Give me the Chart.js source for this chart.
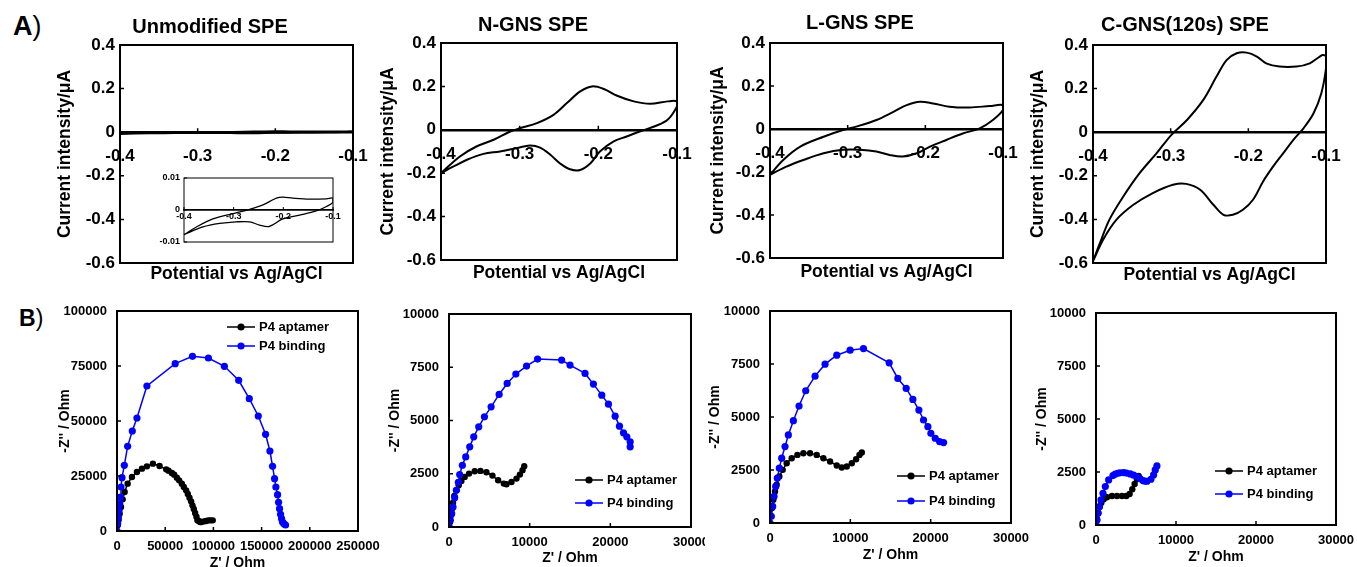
<!DOCTYPE html>
<html>
<head>
<meta charset="utf-8">
<title>CV and EIS of modified SPEs</title>
<script src="https://cdn.jsdelivr.net/npm/chart.js@4.4.1/dist/chart.umd.min.js"></script>
<style>
  html, body { margin: 0; padding: 0; background: #fff; }
  body { width: 1357px; height: 567px; position: relative; overflow: hidden; font-family: 'Liberation Sans', Arial, sans-serif; }
  canvas { position: absolute; }
  .tag { position: absolute; font-weight: bold; line-height: 1; color: #000; }
  .tag span { font-weight: normal; }
</style>
</head>
<body>
<div class="tag" style="left:13px;top:13px;font-size:27px">A<span>)</span></div>
<div class="tag" style="left:19px;top:307px;font-size:23px">B<span>)</span></div>
<script>
// ---- tick labels ----
const cvPotentialTicks = [-0.4, -0.3, -0.2, -0.1];
const cvCurrentTicks = [0.4, 0.2, 0, -0.2, -0.4, -0.6];
const insetCurrentTicks = [0.01, 0, -0.01];
const eisReTicksWide = [0, 50000, 100000, 150000, 200000, 250000];
const eisImTicksWide = [0, 25000, 50000, 75000, 100000];
const eisReTicks = [0, 10000, 20000, 30000];
const eisImTicks = [0, 2500, 5000, 7500, 10000];

// ---- cyclic voltammograms (potential V, current uA) ----
const unmodV = [-0.4, -0.375, -0.342, -0.301, -0.268, -0.241, -0.214, -0.201, -0.181, -0.147, -0.113, -0.1,
  -0.1, -0.113, -0.134, -0.167, -0.201, -0.228, -0.248, -0.268, -0.295, -0.328, -0.362, -0.4];
const unmodI = [-0.0077, -0.0053, -0.0028, -0.0011, 0.0002, 0.0016, 0.0037, 0.004, 0.0037, 0.0034, 0.0035, 0.0037,
  0.0024, 0.0011, -0.0003, -0.0016, -0.0028, -0.0051, -0.0047, -0.0037, -0.0037, -0.0042, -0.0053, -0.0077];

const nGnsV = [-0.4, -0.376, -0.355, -0.333, -0.312, -0.299, -0.278, -0.257, -0.240, -0.223, -0.208, -0.193, -0.176, -0.155, -0.134, -0.112, -0.1,
  -0.1, -0.112, -0.129, -0.144, -0.164, -0.181, -0.198, -0.210, -0.223, -0.236, -0.249, -0.261, -0.274, -0.287, -0.304, -0.325, -0.346, -0.367, -0.384, -0.4];
const nGnsI = [-0.2, -0.123, -0.077, -0.046, -0.008, 0.008, 0.031, 0.069, 0.123, 0.177, 0.2, 0.188, 0.157, 0.131, 0.120, 0.131, 0.131,
  0.108, 0.046, 0.015, -0.003, -0.031, -0.054, -0.1, -0.154, -0.185, -0.182, -0.154, -0.115, -0.082, -0.072, -0.085, -0.1, -0.111, -0.138, -0.169, -0.2];

const lGnsV = [-0.4, -0.383, -0.361, -0.331, -0.306, -0.289, -0.263, -0.241, -0.224, -0.207, -0.190, -0.169, -0.143, -0.117, -0.1,
  -0.1, -0.113, -0.130, -0.151, -0.173, -0.194, -0.211, -0.229, -0.246, -0.263, -0.284, -0.306, -0.331, -0.357, -0.379, -0.4];
const lGnsI = [-0.213, -0.144, -0.082, -0.036, -0.005, 0.011, 0.042, 0.080, 0.111, 0.127, 0.119, 0.104, 0.100, 0.107, 0.111,
  0.088, 0.042, 0.003, -0.020, -0.051, -0.082, -0.113, -0.128, -0.121, -0.105, -0.097, -0.097, -0.113, -0.144, -0.175, -0.213];

const cGnsV = [-0.4, -0.391, -0.379, -0.361, -0.340, -0.318, -0.299, -0.279, -0.258, -0.241, -0.228, -0.215, -0.202, -0.189, -0.177, -0.160, -0.138, -0.121, -0.108, -0.104, -0.1,
  -0.1, -0.106, -0.116, -0.129, -0.142, -0.155, -0.168, -0.181, -0.194, -0.207, -0.220, -0.232, -0.245, -0.262, -0.280, -0.297, -0.323, -0.348, -0.370, -0.387, -0.4];
const cGnsI = [-0.592, -0.508, -0.402, -0.295, -0.188, -0.096, -0.012, 0.056, 0.148, 0.255, 0.331, 0.362, 0.365, 0.347, 0.316, 0.301, 0.301, 0.316, 0.347, 0.354, 0.347,
  0.293, 0.179, 0.087, 0.018, -0.035, -0.096, -0.157, -0.226, -0.310, -0.356, -0.379, -0.379, -0.333, -0.264, -0.237, -0.241, -0.279, -0.333, -0.402, -0.493, -0.592];

// ---- Nyquist plots (Z' Ohm, -Z'' Ohm) ----
const unmodAptRe = [0, 690, 1720, 2760, 4140, 5860, 7930, 11030, 15520, 20690, 25860, 31030, 37240, 44140, 51030, 53450, 56900, 59310, 62070, 64480, 67240, 69310, 71720, 73450, 75170, 76900, 78280, 79660, 81030, 82410, 83450, 84830, 86210, 87590, 90340, 92410, 94830, 97000, 99310];
const unmodAptIm = [0, 2576, 5152, 7879, 10909, 14394, 17727, 21515, 24545, 26818, 28333, 29394, 30606, 29545, 28030, 27424, 26364, 25606, 24242, 23030, 21515, 20000, 18485, 16818, 15152, 13485, 11667, 10000, 8182, 6515, 4848, 4545, 4091, 4091, 4394, 4545, 4848, 4848, 4848];
const unmodBindRe = [0, 690, 1380, 2070, 2760, 3450, 4140, 5170, 7590, 11030, 15860, 20690, 31030, 60340, 78280, 94830, 111380, 126210, 137240, 146550, 154140, 158620, 161380, 163450, 164830, 166550, 167590, 168620, 169660, 170690, 171720, 173100, 174830];
const unmodBindIm = [0, 3333, 6364, 9394, 12424, 15455, 20000, 24242, 29848, 38485, 45455, 51364, 65909, 76061, 79394, 78636, 74848, 68485, 60152, 52273, 43939, 36364, 29394, 23788, 20000, 16515, 13030, 10152, 7576, 5606, 4091, 3333, 2727];

const nGnsAptRe = [0, 124, 249, 373, 497, 663, 912, 1202, 1533, 1947, 2486, 3191, 3895, 4641, 5387, 6091, 6796, 7127, 7749, 8370, 8785, 9116, 9323];
const nGnsAptIm = [0, 235, 549, 862, 1144, 1458, 1724, 1959, 2163, 2351, 2508, 2618, 2633, 2571, 2414, 2194, 2038, 2006, 2116, 2273, 2461, 2665, 2853];
const nGnsBindRe = [0, 166, 331, 497, 704, 912, 1160, 1326, 1657, 2072, 2569, 3066, 3687, 4392, 5221, 6215, 7210, 8287, 9613, 10981, 13964, 15000, 16865, 17901, 18937, 19765, 20594, 21133, 21630, 22044, 22459, 22459];
const nGnsBindIm = [31, 313, 627, 940, 1379, 1724, 2100, 2461, 2900, 3292, 3762, 4232, 4702, 5172, 5643, 6223, 6740, 7179, 7555, 7884, 7837, 7602, 7210, 6708, 6191, 5768, 5204, 4734, 4420, 4232, 3997, 3762];

const lGnsAptRe = [0, 125, 249, 416, 623, 831, 1163, 1579, 2078, 2701, 3407, 4155, 4986, 5817, 6648, 7479, 8310, 8934, 9557, 10180, 10720, 11136, 11427];
const lGnsAptIm = [0, 313, 705, 1097, 1489, 1803, 2194, 2508, 2821, 3056, 3213, 3292, 3292, 3213, 3056, 2900, 2712, 2618, 2665, 2821, 3009, 3213, 3323];
const lGnsBindRe = [0, 166, 332, 499, 706, 914, 1163, 1454, 1870, 2285, 2909, 3615, 4446, 5609, 6856, 8310, 9972, 11634, 14834, 15914, 16953, 17784, 18532, 19114, 19654, 20028, 20568, 21108, 21607];
const lGnsBindIm = [0, 313, 784, 1254, 1724, 2116, 2586, 3056, 3605, 4154, 4828, 5517, 6238, 6928, 7492, 7915, 8150, 8229, 7555, 6818, 6348, 5831, 5329, 4859, 4545, 4232, 3997, 3840, 3793];

const cGnsAptRe = [0, 125, 291, 458, 666, 957, 1373, 1997, 2621, 3245, 3786, 4202, 4535, 4827, 5118, 5326];
const cGnsAptIm = [0, 268, 583, 866, 1055, 1213, 1307, 1370, 1370, 1370, 1370, 1465, 1685, 1937, 2157, 2315];
const cGnsBindRe = [0, 125, 250, 416, 624, 874, 1165, 1581, 2122, 2400, 2705, 3000, 3453, 3800, 4286, 4700, 5118, 5500, 5867, 6100, 6366, 6865, 7198, 7406, 7614];
const cGnsBindIm = [0, 236, 551, 866, 1181, 1496, 1811, 2126, 2331, 2400, 2441, 2460, 2472, 2450, 2409, 2350, 2283, 2190, 2094, 2070, 2063, 2157, 2362, 2598, 2787];

const FONT = "'Liberation Sans', Arial, sans-serif";
Chart.defaults.font.family = FONT;
Chart.defaults.color = '#000';
Chart.defaults.animation = false;

function pairs(xs, ys) {
  return xs.map((x, i) => ({ x: x, y: ys[i] }));
}

function fixedTicks(list) {
  return scale => { scale.ticks = list.map(v => ({ value: v })); };
}

function place(left, top, w, h) {
  const c = document.createElement('canvas');
  c.width = w;
  c.height = h;
  c.style.left = left + 'px';
  c.style.top = top + 'px';
  c.style.width = w + 'px';
  c.style.height = h + 'px';
  document.body.appendChild(c);
  return c;
}

// box round the plot area plus short inward tick marks
const framePlugin = {
  id: 'frame',
  afterDatasetsDraw(chart, args, opts) {
    const { ctx, chartArea: a, scales } = chart;
    const xs = scales.x, ys = scales.y;
    const len = opts.tick || 4;
    ctx.save();
    ctx.strokeStyle = '#000';
    ctx.lineWidth = opts.width || 2;
    ctx.strokeRect(a.left, a.top, a.right - a.left, a.bottom - a.top);
    const base = typeof xs.options.position === 'object' ? ys.getPixelForValue(0) : a.bottom;
    ctx.lineWidth = opts.tickWidth || 1.5;
    ctx.beginPath();
    xs.ticks.forEach(t => {
      const px = xs.getPixelForValue(t.value);
      ctx.moveTo(px, base);
      ctx.lineTo(px, base - len);
    });
    ys.ticks.forEach(t => {
      const py = ys.getPixelForValue(t.value);
      ctx.moveTo(a.left, py);
      ctx.lineTo(a.left + len, py);
    });
    ctx.stroke();
    ctx.restore();
  }
};

// legend drawn inside the plot area
const keyPlugin = {
  id: 'key',
  afterDraw(chart, args, o) {
    if (!o.show) return;
    const { ctx, chartArea: a } = chart;
    ctx.save();
    ctx.font = 'bold 13px ' + FONT;
    ctx.textBaseline = 'middle';
    chart.data.datasets.forEach((ds, k) => {
      const x = a.left + o.dx, y = a.top + o.dy + k * o.gap;
      ctx.strokeStyle = ds.borderColor;
      ctx.lineWidth = 1.5;
      ctx.beginPath();
      ctx.moveTo(x, y);
      ctx.lineTo(x + 28, y);
      ctx.stroke();
      ctx.fillStyle = ds.backgroundColor;
      ctx.beginPath();
      ctx.arc(x + 14, y, 3.6, 0, Math.PI * 2);
      ctx.fill();
      ctx.fillStyle = '#000';
      ctx.fillText(ds.label, x + 32, y);
    });
    ctx.restore();
  }
};

// one voltammogram panel; plot = [left, top, right, bottom] of the plot area
function cvPanel(p) {
  const [l, t, r, b] = p.plot;
  const left = l - p.leftW;
  const right = r + 17;
  const top = 0, bottom = 290;
  // the title is centred between padLeft and the plot's right edge
  const padLeft = 2 * p.titleX - r - left;
  const canvas = place(left, top, right - left, bottom - top);
  const padTop = p.titleY - top - 12;
  new Chart(canvas, {
    type: 'line',
    data: {
      datasets: [{
        data: pairs(p.v, p.i),
        borderColor: '#000',
        borderWidth: 2,
        pointRadius: 0,
        tension: 0.35,
        fill: false
      }]
    },
    options: {
      responsive: false,
      animation: false,
      layout: { padding: { left: padLeft, top: 0, right: right - r, bottom: 0 } },
      plugins: {
        legend: { display: false },
        tooltip: { enabled: false },
        title: {
          display: true,
          text: p.title,
          color: '#000',
          font: { size: 20, weight: 'bold' },
          padding: { top: padTop, bottom: (t - top) - 24 - padTop }
        },
        frame: { width: 2 }
      },
      scales: {
        x: {
          type: 'linear',
          min: -0.4,
          max: -0.1,
          position: { y: 0 },
          grid: { display: false, drawTicks: false },
          border: { display: true, color: '#000', width: 2.5 },
          ticks: { font: { size: 17, weight: 'bold' }, color: '#000', padding: 14, maxRotation: 0, autoSkip: false, callback: v => String(+v.toFixed(1)) },
          afterBuildTicks: fixedTicks(cvPotentialTicks),
          afterFit: s => { s.paddingLeft = 0; s.paddingRight = 0; }
        },
        xb: {
          type: 'linear',
          position: 'bottom',
          min: 0,
          max: 1,
          grid: { display: false, drawTicks: false },
          border: { display: false },
          ticks: { display: false },
          title: {
            display: true,
            text: 'Potential vs Ag/AgCl',
            color: '#000',
            font: { size: 17.5, weight: 'bold' },
            padding: { top: 0, bottom: bottom - p.xTitleY - 10.5 }
          },
          afterFit: s => { s.height = bottom - b; s.paddingLeft = 0; s.paddingRight = 0; }
        },
        y: {
          type: 'linear',
          min: -0.6,
          max: 0.4,
          grid: { display: false, drawTicks: false },
          border: { display: false },
          ticks: { font: { size: 17, weight: 'bold' }, color: '#000', padding: 5, callback: v => String(+v.toFixed(1)) },
          afterBuildTicks: fixedTicks(cvCurrentTicks),
          title: {
            display: true,
            text: 'Current intensity/μA',
            color: '#000',
            font: { size: 17.5, weight: 'bold' },
            padding: { top: p.yTitleX - left - padLeft - 10.5, bottom: 0 }
          },
          afterFit: s => { s.width = p.leftW - padLeft; s.paddingTop = 0; s.paddingBottom = 0; }
        }
      }
    },
    plugins: [framePlugin]
  });
}

// small zoomed voltammogram of the bare electrode
function insetPanel() {
  const l = 184, t = 178, r = 333, b = 242;
  const leftW = 40, padT = 8, padR = 10, padB = 6;
  const canvas = place(l - leftW, t - padT, r - l + leftW + padR, b - t + padT + padB);
  new Chart(canvas, {
    type: 'line',
    data: {
      datasets: [{
        data: pairs(unmodV, unmodI),
        borderColor: '#000',
        borderWidth: 1.3,
        pointRadius: 0,
        tension: 0.35,
        fill: false
      }]
    },
    options: {
      responsive: false,
      animation: false,
      layout: { padding: { left: 0, top: padT, right: padR, bottom: padB } },
      plugins: {
        legend: { display: false },
        tooltip: { enabled: false },
        frame: { width: 1, tick: 3, tickWidth: 1 }
      },
      scales: {
        x: {
          type: 'linear',
          min: -0.4,
          max: -0.1,
          position: { y: 0 },
          grid: { display: false, drawTicks: false },
          border: { display: true, color: '#000', width: 1.8 },
          ticks: { font: { size: 9, weight: 'bold' }, color: '#000', padding: 1, maxRotation: 0, autoSkip: false, callback: v => String(+v.toFixed(1)) },
          afterBuildTicks: fixedTicks(cvPotentialTicks),
          afterFit: s => { s.paddingLeft = 0; s.paddingRight = 0; }
        },
        y: {
          type: 'linear',
          min: -0.01,
          max: 0.01,
          grid: { display: false, drawTicks: false },
          border: { display: false },
          ticks: { font: { size: 9, weight: 'bold' }, color: '#000', padding: 4, callback: v => String(+v.toFixed(2)) },
          afterBuildTicks: fixedTicks(insetCurrentTicks),
          afterFit: s => { s.width = leftW; s.paddingTop = 0; s.paddingBottom = 0; }
        }
      }
    },
    plugins: [framePlugin]
  });
}

// one Nyquist panel
function eisPanel(p) {
  const [l, t, r, b] = p.plot;
  const leftW = 65;
  const left = l - leftW, top = t - 16, bottom = 580;
  const canvas = place(left, top, p.canvasRight - left, bottom - top);
  new Chart(canvas, {
    type: 'line',
    data: {
      datasets: [{
        label: 'P4 aptamer',
        data: pairs(p.aptRe, p.aptIm),
        borderColor: '#000',
        backgroundColor: '#000',
        borderWidth: 1.5,
        pointRadius: 3.2,
        pointBorderWidth: 0,
        tension: 0,
        order: 1
      }, {
        label: 'P4 binding',
        data: pairs(p.bindRe, p.bindIm),
        borderColor: '#0000ff',
        backgroundColor: '#0000ff',
        borderWidth: 1.5,
        pointRadius: 3.6,
        pointBorderWidth: 0,
        tension: 0,
        order: 0
      }]
    },
    options: {
      responsive: false,
      animation: false,
      layout: { padding: { left: 0, top: 16, right: p.canvasRight - r, bottom: 0 } },
      plugins: {
        legend: { display: false },
        tooltip: { enabled: false },
        frame: { width: 2 },
        key: { show: true, dx: p.key[0], dy: p.key[1], gap: p.key[2] }
      },
      scales: {
        x: {
          type: 'linear',
          position: 'bottom',
          min: 0,
          max: p.reTicks[p.reTicks.length - 1],
          grid: { display: false, drawTicks: false },
          border: { display: false },
          ticks: { font: { size: 13, weight: 'bold' }, color: '#000', padding: 8, maxRotation: 0, minRotation: 0, autoSkip: false, callback: v => String(v) },
          afterBuildTicks: fixedTicks(p.reTicks),
          title: {
            display: true,
            text: "Z' / Ohm",
            color: '#000',
            font: { size: 14, weight: 'bold' },
            padding: { top: 0, bottom: bottom - p.xTitleY - 8.4 }
          },
          afterFit: s => { s.height = bottom - b; s.paddingLeft = 0; s.paddingRight = 0; }
        },
        y: {
          type: 'linear',
          min: 0,
          max: p.imTicks[p.imTicks.length - 1],
          grid: { display: false, drawTicks: false },
          border: { display: false },
          ticks: { font: { size: 13, weight: 'bold' }, color: '#000', padding: 10, callback: v => String(v) },
          afterBuildTicks: fixedTicks(p.imTicks),
          title: {
            display: true,
            text: "-Z'' / Ohm",
            color: '#000',
            font: { size: 14, weight: 'bold' },
            padding: { top: p.yTitleX - left - 8.4, bottom: 0 }
          },
          afterFit: s => { s.width = leftW; s.paddingTop = 0; s.paddingBottom = 0; }
        }
      }
    },
    plugins: [framePlugin, keyPlugin]
  });
}

cvPanel({ title: 'Unmodified SPE', v: unmodV, i: unmodI, plot: [120, 45, 353, 263], leftW: 70, titleX: 210, titleY: 27, yTitleX: 65, xTitleY: 274 });
cvPanel({ title: 'N-GNS SPE', v: nGnsV, i: nGnsI, plot: [441, 43, 677, 260], leftW: 70, titleX: 533, titleY: 25, yTitleX: 388, xTitleY: 273 });
cvPanel({ title: 'L-GNS SPE', v: lGnsV, i: lGnsI, plot: [770, 43, 1003, 258], leftW: 70, titleX: 860, titleY: 23, yTitleX: 718, xTitleY: 272 });
cvPanel({ title: 'C-GNS(120s) SPE', v: cGnsV, i: cGnsI, plot: [1093, 45, 1326, 263], leftW: 66, titleX: 1185, titleY: 25, yTitleX: 1038, xTitleY: 275 });
insetPanel();

eisPanel({ aptRe: unmodAptRe, aptIm: unmodAptIm, bindRe: unmodBindRe, bindIm: unmodBindIm, reTicks: eisReTicksWide, imTicks: eisImTicksWide,
  plot: [117, 311, 358, 531], canvasRight: 384, yTitleX: 65, xTitleY: 563, key: [110, 16, 19] });
eisPanel({ aptRe: nGnsAptRe, aptIm: nGnsAptIm, bindRe: nGnsBindRe, bindIm: nGnsBindIm, reTicks: eisReTicks, imTicks: eisImTicks,
  plot: [449, 314, 691, 527], canvasRight: 705, yTitleX: 395, xTitleY: 558, key: [126, 166, 23] });
eisPanel({ aptRe: lGnsAptRe, aptIm: lGnsAptIm, bindRe: lGnsBindRe, bindIm: lGnsBindIm, reTicks: eisReTicks, imTicks: eisImTicks,
  plot: [770, 311, 1011, 523], canvasRight: 1031, yTitleX: 715, xTitleY: 555, key: [127, 165, 25] });
eisPanel({ aptRe: cGnsAptRe, aptIm: cGnsAptIm, bindRe: cGnsBindRe, bindIm: cGnsBindIm, reTicks: eisReTicks, imTicks: eisImTicks,
  plot: [1096, 313, 1336, 525], canvasRight: 1357, yTitleX: 1042, xTitleY: 557, key: [119, 158, 23] });
</script>
</body>
</html>
